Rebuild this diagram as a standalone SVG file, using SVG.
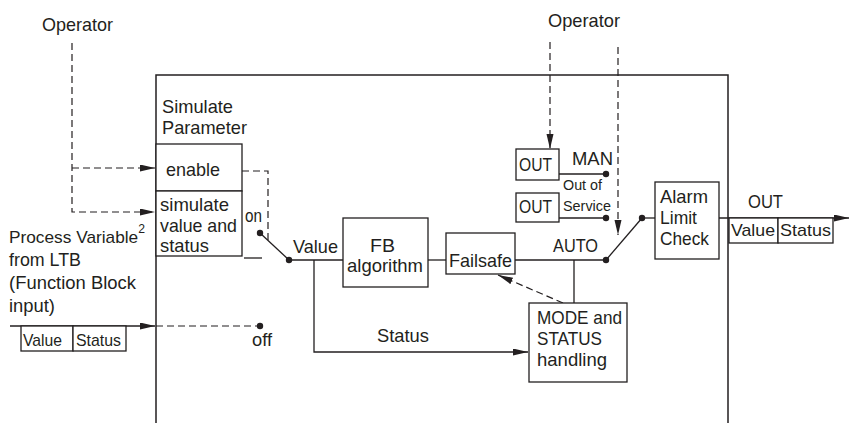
<svg xmlns="http://www.w3.org/2000/svg" width="849" height="423" viewBox="0 0 849 423">
<style>
text{font-family:"Liberation Sans Narrow","Liberation Sans",Arial,sans-serif;font-size:19px;fill:#231f20}
.pv{font-size:17px}
.sm{font-size:15px}
.bx{font-size:17px}
.sup{font-size:12px}
.box{fill:#fff;stroke:#231f20;stroke-width:1.3}
.ln{fill:none;stroke:#231f20;stroke-width:1.3}
.dl{fill:none;stroke:#231f20;stroke-width:1.2;stroke-dasharray:7 4}
.fr{fill:none;stroke:#231f20;stroke-width:1.5}
.dot{fill:#231f20}
</style>
<defs>
<marker id="ah" markerUnits="userSpaceOnUse" markerWidth="16" markerHeight="8" refX="15" refY="3.5" orient="auto">
<path d="M0,0 L15,3.5 L0,7 z" fill="#231f20"/>
</marker>
</defs>
<rect width="849" height="423" fill="#fff"/>
<g id="frame">
<polyline class="fr" points="156,423 156,75 728,75 728,423"/>
</g>
<g id="connectors">
<polyline class="dl" points="72,43 72,212 155,212" marker-end="url(#ah)"/>
<line class="dl" x1="72" y1="168" x2="155" y2="168" marker-end="url(#ah)"/>
<polyline class="dl" points="242,171 268,171 268,240"/>
<line class="ln" x1="10" y1="326" x2="155" y2="326" marker-end="url(#ah)"/>
<line class="dl" x1="156" y1="326" x2="260" y2="326"/>
<line class="ln" x1="260" y1="233" x2="289" y2="260"/>
<line class="ln" x1="244" y1="258" x2="262" y2="258"/>
<line class="ln" x1="289" y1="260" x2="343" y2="260"/>
<line class="ln" x1="428" y1="260" x2="446" y2="260"/>
<line class="ln" x1="515" y1="260" x2="606" y2="260"/>
<polyline class="ln" points="314,260 314,352 528,352" marker-end="url(#ah)"/>
<line class="ln" x1="574" y1="260" x2="574" y2="303"/>
<line class="dl" x1="563" y1="303" x2="498" y2="275" marker-end="url(#ah)"/>
<line class="dl" x1="550" y1="42" x2="550" y2="149" marker-end="url(#ah)"/>
<line class="dl" x1="618" y1="47" x2="618" y2="235" marker-end="url(#ah)"/>
<line class="ln" x1="559" y1="174" x2="606" y2="174"/>
<line class="ln" x1="559" y1="218" x2="606" y2="218"/>
<line class="ln" x1="606" y1="260" x2="642" y2="218"/>
<line class="ln" x1="642" y1="218" x2="655" y2="218"/>
<line class="ln" x1="719" y1="218" x2="849" y2="218" marker-end="url(#ah)"/>
<circle class="dot" cx="260" cy="233" r="3.2"/>
<circle class="dot" cx="289" cy="260" r="3.2"/>
<circle class="dot" cx="260" cy="326" r="3.2"/>
<circle class="dot" cx="606" cy="174" r="3.2"/>
<circle class="dot" cx="606" cy="218" r="3.2"/>
<circle class="dot" cx="606" cy="260" r="3.2"/>
<circle class="dot" cx="642" cy="218" r="3.2"/>
</g>
<g id="operator-left">
<text x="42" y="31" textLength="71" lengthAdjust="spacingAndGlyphs">Operator</text>
</g>
<g id="operator-right">
<text x="548" y="27" textLength="72" lengthAdjust="spacingAndGlyphs">Operator</text>
</g>
<g id="simulate-parameter">
<text x="162" y="113" textLength="71" lengthAdjust="spacingAndGlyphs">Simulate</text>
<text x="162" y="134" textLength="85" lengthAdjust="spacingAndGlyphs">Parameter</text>
</g>
<g id="enable">
<rect class="box" x="156" y="144" width="86" height="47"/>
<text x="166" y="176" textLength="54" lengthAdjust="spacingAndGlyphs">enable</text>
</g>
<g id="simulate">
<rect class="box" x="156" y="191" width="86" height="65"/>
<text x="160" y="211" textLength="69" lengthAdjust="spacingAndGlyphs">simulate</text>
<text x="160" y="232" textLength="77" lengthAdjust="spacingAndGlyphs">value and</text>
<text x="160" y="252" textLength="49" lengthAdjust="spacingAndGlyphs">status</text>
</g>
<g id="switch-labels">
<text x="245" y="222" textLength="17" lengthAdjust="spacingAndGlyphs">on</text>
<text x="252" y="346" textLength="20" lengthAdjust="spacingAndGlyphs">off</text>
<text x="293" y="253" textLength="45" lengthAdjust="spacingAndGlyphs">Value</text>
<text x="377" y="342" textLength="52" lengthAdjust="spacingAndGlyphs">Status</text>
</g>
<g id="process-variable">
<text class="pv" x="9" y="243" textLength="136" lengthAdjust="spacingAndGlyphs">Process Variable<tspan class="sup" dy="-10">2</tspan></text>
<text x="9" y="266" textLength="72" lengthAdjust="spacingAndGlyphs">from LTB</text>
<text x="9" y="289" textLength="127" lengthAdjust="spacingAndGlyphs">(Function Block</text>
<text x="9" y="312" textLength="46" lengthAdjust="spacingAndGlyphs">input)</text>
</g>
<g id="input-record">
<rect class="box" x="21" y="326" width="52" height="25"/>
<rect class="box" x="73" y="326" width="53" height="25"/>
<text class="bx" x="23" y="346" textLength="39" lengthAdjust="spacingAndGlyphs">Value</text>
<text class="bx" x="76" y="346" textLength="45" lengthAdjust="spacingAndGlyphs">Status</text>
</g>
<g id="fb-algorithm">
<rect class="box" x="343" y="218" width="85" height="69"/>
<text x="370" y="252" textLength="25" lengthAdjust="spacingAndGlyphs">FB</text>
<text x="347" y="272" textLength="76" lengthAdjust="spacingAndGlyphs">algorithm</text>
</g>
<g id="failsafe">
<rect class="box" x="446" y="233" width="69" height="41"/>
<text x="449" y="267" textLength="63" lengthAdjust="spacingAndGlyphs">Failsafe</text>
</g>
<g id="mode-status">
<rect class="box" x="529" y="303" width="98" height="79"/>
<text x="537" y="324" textLength="85" lengthAdjust="spacingAndGlyphs">MODE and</text>
<text x="537" y="345" textLength="65" lengthAdjust="spacingAndGlyphs">STATUS</text>
<text x="537" y="366" textLength="70" lengthAdjust="spacingAndGlyphs">handling</text>
</g>
<g id="out-man">
<rect class="box" x="516" y="149" width="43" height="31"/>
<text x="519" y="171" textLength="33" lengthAdjust="spacingAndGlyphs">OUT</text>
<text x="572" y="165" textLength="41" lengthAdjust="spacingAndGlyphs">MAN</text>
</g>
<g id="out-oos">
<rect class="box" x="516" y="193" width="43" height="29"/>
<text x="519" y="213" textLength="33" lengthAdjust="spacingAndGlyphs">OUT</text>
<text class="sm" x="563" y="190" textLength="39" lengthAdjust="spacingAndGlyphs">Out of</text>
<text class="sm" x="563" y="211" textLength="48" lengthAdjust="spacingAndGlyphs">Service</text>
</g>
<g id="auto">
<text x="553" y="252" textLength="45" lengthAdjust="spacingAndGlyphs">AUTO</text>
</g>
<g id="alarm-limit-check">
<rect class="box" x="655" y="182" width="64" height="77"/>
<text x="660" y="203" textLength="48" lengthAdjust="spacingAndGlyphs">Alarm</text>
<text x="660" y="224" textLength="37" lengthAdjust="spacingAndGlyphs">Limit</text>
<text x="660" y="245" textLength="49" lengthAdjust="spacingAndGlyphs">Check</text>
</g>
<g id="output-record">
<text x="748" y="208" textLength="35" lengthAdjust="spacingAndGlyphs">OUT</text>
<rect class="box" x="729" y="218" width="49" height="25"/>
<rect class="box" x="778" y="218" width="55" height="25"/>
<text class="bx" x="731" y="236" textLength="44" lengthAdjust="spacingAndGlyphs">Value</text>
<text class="bx" x="780" y="236" textLength="51" lengthAdjust="spacingAndGlyphs">Status</text>
</g>
</svg>
